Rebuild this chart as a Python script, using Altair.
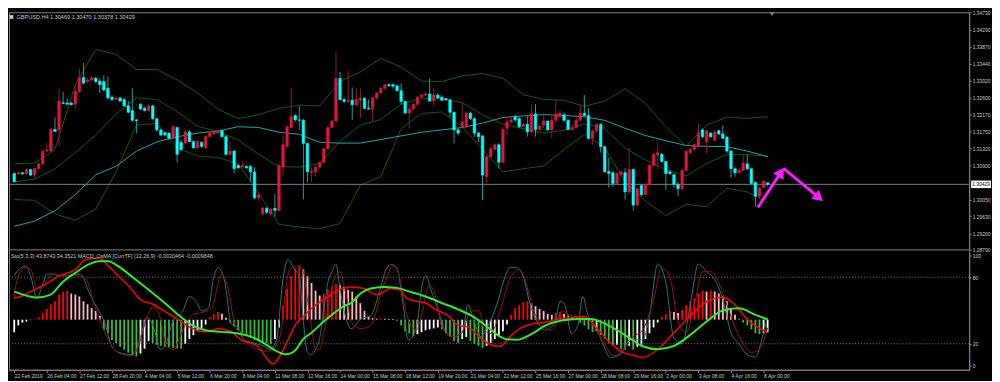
import altair as alt
import numpy as np
import pandas as pd

# ---------------- candles (price x 10000) ----------------
open_p = [13070,13069,13072,13070,13080,13066,13082,13094,13126,13126,
13180,13179,13247,13246,13246,13243,13275,13310,13300,13304,
13308,13301,13300,13283,13261,13255,13259,13255,13239,13227,
13204,13243,13233,13227,13239,13207,13179,13172,13171,13158,
13185,13148,13146,13174,13150,13134,13148,13134,13162,13169,
13171,13177,13162,13118,13126,13090,13086,13088,13088,13074,
13009,12969,12983,12969,12983,12977,13086,13138,13185,13215,
13204,13203,13145,13072,13074,13086,13098,13132,13185,13201,
13308,13255,13250,13253,13242,13253,13258,13233,13231,13259,
13271,13283,13292,13292,13289,13277,13250,13221,13231,13243,
13261,13266,13269,13251,13266,13261,13257,13254,13223,13179,
13187,13187,13221,13207,13171,13164,13062,13112,13130,13142,
13098,13183,13199,13212,13207,13188,13193,13174,13219,13180,
13191,13201,13179,13203,13212,13217,13203,13180,13185,13203,
13221,13215,13158,13177,13193,13137,13075,13072,13045,13067,
13072,13024,13080,12991,13040,13017,13043,13090,13116,13118,
13100,13074,13067,13043,13032,13078,13122,13130,13138,13179,
13150,13171,13153,13177,13169,13161,13126,13082,13072,13078,
13094,13082,13048,13013,13035,13047]
high_p = [13074,13075,13074,13083,13082,13085,13098,13130,13146,13185,
13211,13282,13275,13258,13250,13283,13332,13346,13309,13312,
13312,13309,13316,13312,13266,13263,13261,13259,13251,13283,
13206,13246,13237,13243,13242,13209,13182,13175,13174,13191,
13188,13153,13179,13179,13153,13153,13150,13166,13175,13177,
13180,13180,13166,13150,13129,13093,13100,13091,13091,13086,
13025,12987,12987,12985,13019,13094,13166,13191,13285,13219,
13239,13207,13148,13086,13090,13100,13134,13187,13204,13376,
13324,13259,13328,13285,13283,13283,13261,13255,13263,13275,
13288,13295,13296,13296,13293,13296,13253,13243,13247,13263,
13269,13275,13308,13283,13271,13266,13259,13258,13225,13185,
13247,13225,13225,13211,13174,13166,13116,13137,13145,13146,
13187,13215,13212,13217,13211,13196,13215,13243,13243,13193,
13221,13203,13215,13255,13229,13223,13207,13193,13217,13243,
13266,13233,13180,13196,13196,13140,13110,13075,13074,13078,
13083,13134,13083,13035,13043,13045,13094,13122,13148,13122,
13102,13078,13070,13049,13082,13130,13134,13146,13195,13183,
13180,13174,13179,13180,13191,13164,13129,13085,13082,13118,
13118,13083,13049,13037,13054,13047]
low_p = [13048,13066,13067,13067,13064,13058,13080,13091,13124,13125,
13174,13138,13243,13242,13240,13231,13271,13292,13296,13301,
13296,13271,13275,13255,13251,13253,13250,13237,13221,13199,
13171,13229,13225,13225,13204,13174,13164,13164,13154,13153,
13098,13126,13145,13148,13132,13132,13134,13132,13161,13166,
13169,13159,13114,13114,13070,13082,13083,13082,13049,13005,
13001,12964,12969,12962,12962,12975,13066,13134,13183,13199,
13179,13005,13049,13049,13062,13082,13094,13130,13183,13199,
13251,13246,13246,13204,13237,13208,13230,13229,13201,13255,
13269,13280,13288,13283,13275,13243,13219,13183,13227,13239,
13258,13263,13250,13239,13255,13251,13251,13211,13145,13166,
13185,13183,13203,13162,13148,13003,13045,13110,13129,13082,
13096,13166,13193,13199,13183,13185,13162,13171,13162,13179,
13183,13177,13158,13193,13211,13199,13179,13177,13183,13201,
13211,13154,13142,13171,13122,13072,13035,13037,13043,13066,
13005,13017,12977,12989,13013,13016,13041,13086,13080,13098,
13029,13066,13035,13013,13025,13075,13120,13129,13135,13158,
13120,13159,13150,13166,13156,13122,13059,13062,13070,13075,
13078,13041,12987,13009,13033,13038]
close_p = [13049,13072,13069,13080,13066,13083,13094,13126,13129,13180,
13175,13251,13245,13243,13242,13275,13310,13296,13304,13309,
13300,13292,13279,13259,13255,13259,13251,13239,13223,13203,
13202,13231,13227,13239,13207,13179,13166,13166,13158,13187,
13118,13130,13174,13150,13134,13150,13138,13162,13172,13174,
13177,13162,13118,13126,13082,13084,13090,13084,13074,13009,
13016,12983,12973,12981,12978,13090,13142,13187,13212,13204,
13203,13145,13074,13075,13086,13098,13132,13185,13201,13308,
13255,13250,13253,13242,13255,13258,13233,13231,13259,13271,
13283,13292,13289,13288,13277,13250,13221,13231,13243,13261,
13266,13269,13251,13267,13259,13253,13254,13223,13179,13171,
13199,13221,13207,13171,13162,13066,13112,13132,13142,13098,
13180,13199,13204,13204,13187,13193,13174,13219,13180,13188,
13201,13179,13203,13219,13221,13203,13180,13185,13203,13221,
13215,13158,13177,13193,13137,13074,13070,13045,13070,13074,
13024,13080,12991,13032,13017,13043,13090,13118,13122,13100,
13070,13070,13043,13032,13078,13126,13130,13142,13171,13162,
13177,13162,13174,13169,13158,13126,13082,13072,13078,13096,
13082,13045,13013,13033,13051,13043]

# ---------------- overlays sampled every 5 bars (price x 10000) ----------------
band_bar = list(range(0, 186, 5))
bb_upper = [13094,13096,13130,13292,13380,13368,13330,13330,13304,13271,13231,13207,
            13217,13233,13241,13239,13300,13324,13358,13336,13301,13300,13314,13320,
            13308,13267,13255,13253,13238,13251,13282,13245,13187,13138,13191,13211,
            13208,13212]
bb_middle = [13049,13056,13082,13122,13166,13219,13259,13255,13225,13188,13175,13154,
             13118,13087,13086,13095,13150,13191,13205,13243,13258,13258,13247,13217,
             13193,13182,13171,13178,13194,13183,13133,13104,13080,13064,13095,13118,
             13117,13114]
bb_lower = [13005,13003,12969,12953,12981,13074,13191,13195,13134,13114,13110,13094,
            13021,12943,12936,12932,12945,13041,13062,13182,13220,13224,13187,13130,
            13074,13082,13089,13130,13168,13134,13049,13001,12965,12993,12987,13033,
            13024,12997]
ma_line = [12938,12951,12977,13017,13067,13088,13126,13149,13162,13171,13176,13187,
           13185,13173,13168,13148,13146,13146,13155,13164,13173,13179,13185,13196,
           13210,13214,13217,13215,13212,13203,13183,13165,13152,13140,13138,13137,
           13126,13112]

price_ticks = [1.3473, 1.3429, 1.3387, 1.3344, 1.3302, 1.3260, 1.3217, 1.3175,
               1.3132, 1.3090, 1.3005, 1.2963, 1.2920, 1.2879]
current_price = 1.30429
chart_title = "GBPUSD,H4  1.30469 1.30470 1.30378 1.30429"

# magenta forecast arrows (bar index, price)
arrow_id = [1, 1, 2, 2]
arrow_bar = [182.6, 188.3, 188.9, 197.6]
arrow_price = [1.29851, 1.30732, 1.30827, 1.30095]
head_bar = [188.3, 197.6]
head_price = [1.30732, 1.30095]
head_angle = [33, 130]

# ---------------- sub window ----------------
sub_title = "Sto(5,3,3) 43.8743 34.3521  MACD_OsMA [CurrTF] (12,26,9) -0.0020464 -0.0009848"
hist_val = [
-13,-6,-3,-2,-0.5,0.5,2.3,7,11,16,
19,26,29,30,27,26,24,19,16,12,
9,4,-11,-14,-21,-24,-28,-31,-34,-37,
-38,-35,-30,-22,-24,-26,-27,-28,-28.5,-29,
-29.5,-30,-25,-20,-16,-12,-9,-5,3,6,
8,6,2,-3,-7,-11,-14,-17,-19,-21,
-22,-23,-24,-25,-20,-8,15,32,45,53,
56,52,45,38,30,25,27,31,34,37,
36,34,31,29,24,17,9,3,1.5,1,
1.2,1,0.8,0.6,-1,-6,-12,-14,-17,-15,
-13,-11,-10,-9,-8,-10,-14,-18,-22,-24,
-20,-18,-22,-25,-27,-29,-27,-24,-20,-17,
-12,-5,5,12,15,18,19,17,14,11,
9,6,5,7,8,6,4,2,1,-3,
-6,-10,-13,-12,-16,-20,-24,-27,-26,-30,
-31,-27,-31,-28,-26,-20,-14,-8,-3,3,
6,9,8,7,10,15,19,22,27,30,
29,30,29,27,24,19,12,5,0.5,-3,
-6,-10,-14,-15,-14,-13]

sto_main_bar = [0,0.8,2.8,4,5.6,6.8,8,9.5,11.1,13.1,15.1,16.3,18.3,20.3,22.3,23.9,25.9,28.6,29.8,31,
                32.6,34.2,35.8,37,39,41.4,43,44.6,46.1,47.7,48.9,50.1,51.7,53.3,54.9,56.5,58.9,61.3,62.8,64.4,
                66,67.2,68.8,70,71,72,73,74,75,76,77,78,79,80,81,82.7,85.1,87.5,89.9,91.5,92.7,93.9,95.5,96.7,98.7,100.3,
                101.2,102.2,103.8,105.8,108.2,110.2,111.4,112.6,114.6,116.2,118.5,120.1,121.7,123.3,124.9,126.9,128.5,130.5,132.9,134,
                135.2,136.8,138.4,139.6,140.8,143.2,144.8,146.4,148.8,151.2,154.3,156,158,160,162,164,166,168,170,172,
                174,176,178,180,182,184,185]
sto_main_val = [81.4,85.8,90.1,81.4,61.2,71.3,82.9,82.9,81.4,81.4,82.9,82.9,67,52.5,38,17.7,11.9,10.4,13.3,26.4,
                43.8,35.1,14.8,17.7,40.9,49.6,62.6,58.3,49.6,52.5,78.6,88.7,75.7,38,35.1,23.5,20.6,17.7,14.8,23.5,
                78.6,95.9,87.2,81.4,40,12,10,15,25,50,75,85,92,70,50,33.6,42.3,45.2,69.9,88.7,91.6,88.7,55.4,23.5,33.6,75.7,
                81.4,69.9,53.9,32.2,26.4,32.2,55.4,43.8,26.4,35.1,55.4,75.7,88.7,88.7,81.4,52.5,39.4,32.2,40.9,58.3,
                55.4,29.3,36.5,62.6,46.7,32.2,17.7,7.5,10.4,23.5,23.5,45,92,75,25,20,55,92,85,78,
                60,30,20,10,8,30,43.9]
sto_sig_bar = [0,0.4,2.4,4,5.6,7.2,9.5,11.9,15.1,17.5,19.9,23.1,25.5,28.6,30.2,32.6,34.2,35.8,37.4,39,
               41.4,43.8,46.1,48.5,50.9,52.5,54.1,56.5,59.7,62.8,65.2,67.6,69.2,70.8,72,73,74,75,76,77,78,79,80,81,82,82.7,
               85.1,87.5,90.7,93.1,94.3,96.3,98.7,100.3,101.8,103.4,105,107.4,109.8,112.2,114.2,115.4,117,119.3,121.7,124.1,
               125.6,127.3,129.7,132.1,134.4,136,138.4,140,142.4,144.8,147.2,149.6,152,154.3,157,159,161,163,165,167,
               169,171,173,175,177,179,181,183,185]
sto_sig_val = [61.2,72.8,88.7,87.2,69.9,72.8,82.9,81.4,81.4,78.6,52.5,23.5,11.9,9,14.8,43.8,53.9,43.8,17.7,14.8,
               32.2,46.7,48.1,52.5,82.9,69.9,38,23.5,14.8,13.3,26.4,87.2,90.1,87.2,60,35,15,15,30,50,70,82,85,72,55,39.4,
               33.6,36.5,72.8,90.1,84.3,46.7,32.2,49.6,72.8,64.1,35.1,26.4,29.3,49.6,49.6,32.2,29.3,49.6,78.6,87.2,
               75.7,52.5,36.5,32.2,49.6,46.7,43.8,45.2,35.1,20.6,9,14.8,26.4,32.2,60,88,80,40,30,55,
               85,85,75,55,35,20,12,15,34.4]
macd_bar = [0,1.6,4,7.2,11.1,15.1,17.5,20.7,23.1,25.5,28.6,31,34.2,37.4,40.6,43.8,46.9,50.1,53.3,55.7,
            59.7,63.6,65.2,67.6,69.2,70.8,73,76,79,81,82.7,85.9,89.1,92.3,94.7,96.3,98.7,101,103.4,106.6,
            109,111.4,114.6,117,119.3,121.7,124.1,127.3,130.5,133.6,136.8,140,143.2,146.4,149.6,152.7,154.3,158,162,166,
            170,174,177,180,183,185]
macd_val = [61.2,62.6,67,72.8,81.4,87.2,95.9,97.4,90.1,81.4,69.9,59.7,55.4,48.1,40.9,33.6,30.7,33.6,30.7,23.5,
            17.7,1.7,9,26.4,38,43.8,52,60,67,70,71.3,69.9,64.1,69.9,68.4,61.2,58.3,56.8,51,45.2,
            36.5,35.1,24.9,19.1,17.7,26.4,33.6,38,39.4,42.3,43.8,44.3,33.6,20.6,11.9,9,7.5,15,30,45,
            58,62,55,42,34,30]
sig_bar = [0,2.4,5.6,8.8,11.9,15.1,18.3,20.7,23.1,25.5,28.6,32.6,37.4,40.6,43.8,46.9,50.9,54.9,58.1,61.3,
           64.4,66.8,69.2,70.8,73,76,79,81,82.7,85.1,87.5,90.7,93.9,97.1,101,105,109,113,116.2,119.3,
           120.9,123.3,127.3,130.5,134.4,138.4,141.6,144.8,148,151.2,154.3,158,162,166,170,174,178,182,185]
sig_val = [67,64.1,61.7,64.1,75.7,84.3,91.6,94.5,94.5,90.1,81.4,69.9,55.4,45.2,36.5,32.2,30.7,29.3,26.4,20.6,
           13.3,10.4,14.8,23.5,30,40,49,54,56.8,65.5,69.9,71.3,70.4,67,62.6,56.8,51,43.8,35.1,26.4,
           24.1,23.5,29.3,36.5,40.9,42.3,42.3,38.6,32.2,24.9,17.7,15,18,28,40,50,52,46,42]
osc_levels = [20, 80]
osc_ticks = [0, 20, 80, 100]

date_labels = ['22 Feb 2019', '26 Feb 04:00', '27 Feb 12:00', '28 Feb 20:00', '4 Mar 04:00',
               '5 Mar 12:00', '6 Mar 20:00', '8 Mar 04:00', '11 Mar 08:00', '12 Mar 16:00',
               '14 Mar 00:00', '15 Mar 08:00', '18 Mar 12:00', '19 Mar 20:00', '21 Mar 04:00',
               '22 Mar 12:00', '25 Mar 16:00', '27 Mar 00:00', '28 Mar 08:00', '29 Mar 16:00',
               '2 Apr 00:00', '3 Apr 08:00', '4 Apr 16:00', '8 Apr 00:00']

# ---------------- tables ----------------
n = len(close_p)
cdf = pd.DataFrame({'bar': np.arange(n), 'o': np.array(open_p) / 1e4, 'h': np.array(high_p) / 1e4,
                    'l': np.array(low_p) / 1e4, 'c': np.array(close_p) / 1e4})
cdf['dir'] = np.where(cdf['c'] >= cdf['o'], 'up', 'down')

bands = pd.concat([
    pd.DataFrame({'bar': band_bar, 'v': np.array(bb_upper) / 1e4, 's': 'upper'}),
    pd.DataFrame({'bar': band_bar, 'v': np.array(bb_middle) / 1e4, 's': 'middle'}),
    pd.DataFrame({'bar': band_bar, 'v': np.array(bb_lower) / 1e4, 's': 'lower'}),
])
madf = pd.DataFrame({'bar': band_bar, 'v': np.array(ma_line) / 1e4})

hv = np.array(hist_val, dtype=float)
prev = np.concatenate([[np.nan], hv[:-1]])
hcol = []
for v, p in zip(hv, prev):
    if v > 0:
        hcol.append('R' if (np.isnan(p) or v > p) else 'P')
    else:
        hcol.append('G' if (not np.isnan(p) and v < p) else 'W')
hdf = pd.DataFrame({'bar': np.arange(n), 'v': hv, 'k': hcol})

# ---------------- geometry ----------------
W, H = 967, 360
FONT = 'Liberation Sans'
FS = 5
GRAY = '#808080'
LBL = '#c8c8c8'

xaxis = alt.Axis(values=list(range(0, 8 * len(date_labels), 8)),
                 labelExpr='[' + ','.join("'%s'" % s for s in date_labels) + '][round(datum.value / 8)]',
                 labelAlign='left', labelPadding=1, labelFont=FONT, labelFontSize=FS, labelColor=LBL,
                 tickSize=3, tickColor=GRAY, domainColor=GRAY, labelFlush=False, labelOverlap=False,
                 grid=False, title=None, orient='bottom')
xscale = alt.Scale(domain=[-0.07, 233.27], nice=False, zero=False)
X = alt.X('bar:Q', scale=xscale, axis=xaxis)

price_scale = alt.Scale(domain=[1.2879, 1.3473], range=[239.3, 0], zero=False, nice=False)
osc_scale = alt.Scale(domain=[-3.5, 102.9], range=[360, 241.3], zero=False, nice=False)
hist_scale = alt.Scale(domain=[-51.7, 70.0], range=[360, 241.3], zero=False, nice=False)

price_axis = alt.Axis(orient='right', values=price_ticks, format='.5f', labelFont=FONT, labelFontSize=FS,
                      labelColor=LBL, tickSize=2, tickColor=GRAY, domainColor=GRAY, labelPadding=1,
                      grid=False, title=None, labelOverlap=False)
osc_axis = alt.Axis(orient='right', values=osc_ticks, format='d', labelFont=FONT, labelFontSize=FS,
                    labelColor=LBL, tickSize=2, tickColor=GRAY, domainColor=GRAY, labelPadding=1,
                    grid=False, title=None, labelOverlap=False)

# ---------------- main panel ----------------
band_layer = alt.Chart(bands).mark_line(strokeWidth=1, color='#155a15').encode(
    x=X, y=alt.Y('v:Q', scale=price_scale, axis=None), detail='s:N')
ma_layer = alt.Chart(madf).mark_line(strokeWidth=1, color='#27a3a8').encode(
    x=X, y=alt.Y('v:Q', scale=price_scale, axis=None))
cur_layer = alt.Chart(pd.DataFrame({'p': [current_price]})).mark_rule(color=GRAY, strokeWidth=1).encode(
    y=alt.Y('p:Q', scale=price_scale, axis=None))
sep_layer = alt.Chart(pd.DataFrame({'p': [1.2879]})).mark_rule(color=GRAY, strokeWidth=1).encode(
    y=alt.Y('p:Q', scale=price_scale, axis=None))
wick_layer = alt.Chart(cdf).mark_rule(strokeWidth=1).encode(
    x=X, y=alt.Y('l:Q', scale=price_scale, axis=price_axis), y2='h:Q',
    color=alt.Color('dir:N', scale=alt.Scale(domain=['up', 'down'], range=['#8e1c2c', '#1f9c9c']), legend=None))
body_layer = alt.Chart(cdf).mark_bar(size=2.6, strokeWidth=0.5).encode(
    x=X, y=alt.Y('o:Q', scale=price_scale, axis=None), y2='c:Q',
    fill=alt.Fill('dir:N', scale=alt.Scale(domain=['up', 'down'], range=['#e0163e', '#00ffff']), legend=None),
    stroke=alt.Stroke('dir:N', scale=alt.Scale(domain=['up', 'down'], range=['#e0163e', '#00ffff']), legend=None))

adf = pd.DataFrame({'a': arrow_id, 'bar': arrow_bar, 'p': arrow_price, 'ord': [0, 1, 0, 1]})
arrow_layer = alt.Chart(adf).mark_line(strokeWidth=3, color='#ff1aff').encode(
    x=X, y=alt.Y('p:Q', scale=price_scale, axis=None), detail='a:N', order='ord:Q')
hdf2 = pd.DataFrame({'bar': head_bar, 'p': head_price, 'ang': head_angle})
head_layer = alt.Chart(hdf2).mark_point(shape='triangle-up', filled=True, size=150, opacity=1,
                                        color='#ff1aff').encode(
    x=X, y=alt.Y('p:Q', scale=price_scale, axis=None), angle=alt.Angle('ang:Q', scale=None))

shift_layer = alt.Chart(pd.DataFrame({'bar': [186.1], 'p': [1.34685]})).mark_point(
    shape='triangle-down', filled=True, size=22, color=GRAY, opacity=1).encode(
    x=X, y=alt.Y('p:Q', scale=price_scale, axis=None))

box_layer = alt.Chart(pd.DataFrame({'p': [current_price]})).mark_point(
    shape='M-1,-0.38L1,-0.38L1,0.38L-1,0.38Z', filled=True, size=400, color='white', opacity=1).encode(
    x=alt.value(W + 12), y=alt.Y('p:Q', scale=price_scale, axis=None))
box_text = alt.Chart(pd.DataFrame({'p': [current_price], 't': ['%.5f' % current_price]})).mark_text(
    align='left', baseline='middle', font=FONT, fontSize=FS, color='black').encode(
    x=alt.value(W + 3), y=alt.Y('p:Q', scale=price_scale, axis=None), text='t:N')

title_layer = alt.Chart(pd.DataFrame({'t': [chart_title]})).mark_text(
    align='left', baseline='middle', font=FONT, fontSize=5.6, color=LBL).encode(
    x=alt.value(7.5), y=alt.value(4.7), text='t:N')
icon_layer = alt.Chart(pd.DataFrame({'t': [1]})).mark_point(
    shape='square', filled=True, size=14, color=LBL, opacity=1).encode(x=alt.value(2.5), y=alt.value(4.7))

# ---------------- sub panel ----------------
hist_layer = alt.Chart(hdf).mark_bar(size=1.8).encode(
    x=X, y=alt.Y('v:Q', scale=hist_scale, axis=None), y2=alt.datum(0),
    color=alt.Color('k:N', scale=alt.Scale(domain=['R', 'P', 'G', 'W'],
                                           range=['#ff0000', '#ffb6c1', '#3cb83c', '#ffffff']), legend=None))
lvl_layer = alt.Chart(pd.DataFrame({'v': osc_levels})).mark_rule(
    color=GRAY, strokeWidth=1, strokeDash=[1, 2]).encode(y=alt.Y('v:Q', scale=osc_scale, axis=osc_axis))


def osc_line(bars, vals, color, width):
    d = pd.DataFrame({'bar': bars, 'v': vals})
    return alt.Chart(d).mark_line(color=color, strokeWidth=width, interpolate='monotone').encode(
        x=X, y=alt.Y('v:Q', scale=osc_scale, axis=None))


sto_layer = osc_line(sto_main_bar, sto_main_val, '#1f7878', 1)
stosig_layer = osc_line(sto_sig_bar, sto_sig_val, '#9a1010', 1)
macd_layer = osc_line(macd_bar, macd_val, '#ff0000', 1.5)
sig_layer = osc_line(sig_bar, sig_val, '#33e833', 2)

sub_title_layer = alt.Chart(pd.DataFrame({'t': [sub_title]})).mark_text(
    align='left', baseline='middle', font=FONT, fontSize=5.4, color=LBL).encode(
    x=alt.value(2), y=alt.value(245.5), text='t:N')

chart = alt.layer(
    band_layer, ma_layer, cur_layer, sep_layer, wick_layer, body_layer, arrow_layer, head_layer,
    shift_layer, box_layer, box_text, title_layer, icon_layer,
    hist_layer, lvl_layer, sto_layer, stosig_layer, macd_layer, sig_layer, sub_title_layer
).resolve_scale(
    y='independent', color='independent', fill='independent', stroke='independent'
).properties(
    width=W, height=H, background='black',
    padding={'left': 1, 'right': 23, 'top': 3, 'bottom': 10},
    autosize=alt.AutoSizeParams(type='none')
).configure_view(stroke=GRAY, strokeWidth=1)

chart.save("out.html", embed_options={"renderer": "svg", "actions": False})
